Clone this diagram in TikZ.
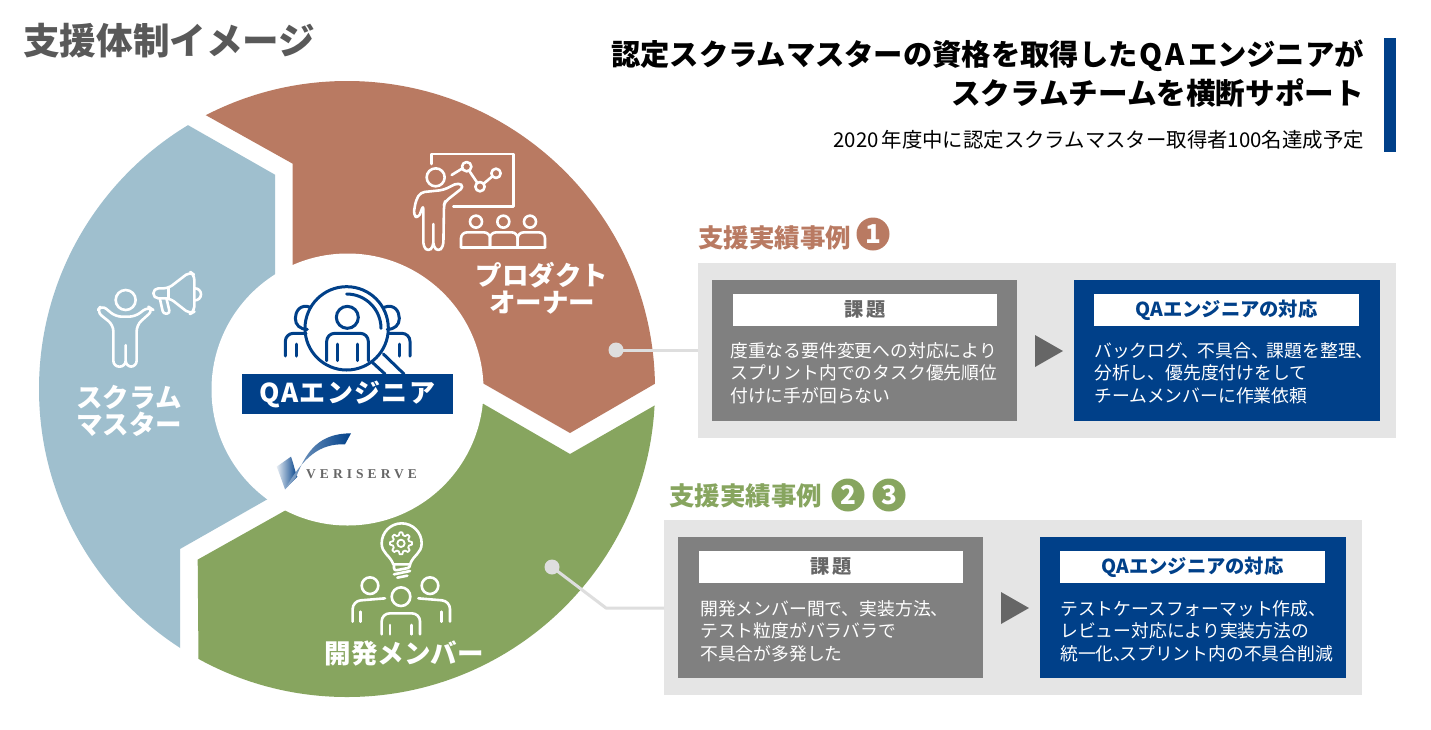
\documentclass[tikz,border=0pt]{standalone}
\usepackage{fontspec}
\setmainfont{Noto Sans CJK JP}
\newfontfamily\logofont[LetterSpace=30]{Liberation Serif}
\definecolor{segblue}{HTML}{9FBFCE}
\definecolor{segbrown}{HTML}{B97A62}
\definecolor{seggreen}{HTML}{87A55F}
\definecolor{navy}{HTML}{004089}
\definecolor{boxgray}{HTML}{808080}
\definecolor{panelgray}{HTML}{E5E5E5}
\definecolor{titlegray}{HTML}{595959}
\definecolor{arrowgray}{HTML}{666666}
\definecolor{dotgray}{HTML}{DEDEDE}
\newcommand{\fs}[2]{\fontsize{#1}{#2}\selectfont}
\tikzset{
 x=1pt,y=-1pt,
 icon/.style={draw=white,line width=2.6pt,line cap=round,line join=round,rounded corners=2.5pt,fill=none},
 qaicon/.style={draw=navy,line width=3pt,line cap=round,line join=round,rounded corners=3pt,fill=none},
 zoomed/.style={x=0.33333pt,y=-0.33333pt},
 panel/.style={fill=panelgray,draw=none,inner sep=0pt,anchor=north west},
 graybox/.style={fill=boxgray,draw=none,inner sep=0pt,anchor=north west,minimum width=305pt,minimum height=141pt},
 bluebox/.style={fill=navy,draw=none,inner sep=0pt,anchor=north west,minimum width=306pt,minimum height=141pt},
 headbox/.style={fill=white,draw=none,inner sep=0pt,anchor=center,minimum height=32pt,font=\bfseries\fs{19.3}{21}},
 bodytext/.style={text=white,align=left,anchor=west,inner sep=0pt,font=\fs{17.8}{22.6}},
 seglabel/.style={text=white,align=center,inner sep=0pt,font=\bfseries\fs{26.5}{27}},
 casehead/.style={anchor=west,inner sep=0pt,font=\bfseries\fs{25.5}{27}},
 numdot/.style={circle,inner sep=0pt,minimum size=33pt,text=white,font=\bfseries\fs{26}{28}},
 tri/.style={fill=arrowgray,draw=none},
 conn/.style={draw=dotgray,line width=3pt,line join=round},
 dot/.style={circle,fill=dotgray,inner sep=0pt,minimum size=15pt},
}
\begin{document}
\begin{tikzpicture}
\useasboundingbox[fill=white] (0,0) rectangle (1431,729);
% ring
\begin{scope}
\clip (347,389) circle (308pt);
\fill[segblue] (100,75) -- (275,174.7) -- (275,320) -- (300,480.7) -- (180,549) -- (180,720) -- (-50,720) -- (-50,75) -- cycle;
\fill[segbrown] (150,84) -- (292.7,163.7) -- (292.7,320) -- (430,353) -- (570,433) -- (720,346) -- (720,0) -- (150,0) -- cycle;
\fill[seggreen] (570,454) -- (430,373) -- (320,491) -- (197.7,559.6) -- (199,729) -- (720,729) -- (720,368) -- cycle;
\end{scope}
\node[circle,fill=white,minimum size=272pt,inner sep=0pt] (hub) at (347.5,389.5) {};
% title
\node[anchor=west,inner sep=0pt,text=titlegray,font=\bfseries\fs{36.6}{38}] (title) at (23,41) {支援体制イメージ};
\node[anchor=east,inner sep=0pt,font=\bfseries\fs{29.3}{32}] (h1) at (1364,56) {認定スクラムマスターの資格を取得した\kern2pt Q\kern3pt A\kern3pt エンジニアが};
\node[anchor=east,inner sep=0pt,font=\bfseries\fs{29.6}{32}] (h2) at (1364,93) {スクラムチームを横断サポート};
\node[anchor=east,inner sep=0pt,font=\fs{20.4}{22}] (h3) at (1364,140) {2020\kern3pt 年度中に認定スクラムマスター取得者100名達成予定};
\node[fill=navy,inner sep=0pt,minimum width=12pt,minimum height=114pt,anchor=north west] (bar) at (1384,38) {};
% panels
\node[panel,minimum width=698pt,minimum height=175pt] (p1) at (698,263) {};
\node[graybox] (g1) at (712,280) {};
\node[bluebox] (b1) at (1074,280) {};
\node[headbox,minimum width=264pt,text=arrowgray] (g1h) at (865,310) {課\,題};
\node[headbox,minimum width=265pt,text=navy] (b1h) at (1226.5,310) {QAエンジニアの対応};
\node[bodytext] (g1t) at (730,373) {度重なる要件変更への対応により\\スプリント内でのタスク優先順位\\付けに手が回らない};
\node[bodytext] (b1t) at (1094,373) {バックログ、\kern-2pt 不具合、\kern-2pt 課題を整理、\\分析し、優先度付けをして\\チームメンバーに作業依頼};
\fill[tri] (1035,335) -- (1063,351) -- (1035,367) -- cycle;
\node[casehead,text=segbrown] (c1) at (698,238) {支援実績事例};
\node[numdot,fill=segbrown] (n1) at (873,234) {1};
%
\node[panel,minimum width=698pt,minimum height=175pt] (p2) at (664,520) {};
\node[graybox] (g2) at (678,537) {};
\node[bluebox] (b2) at (1040,537) {};
\node[headbox,minimum width=264pt,text=arrowgray] (g2h) at (831,567) {課\,題};
\node[headbox,minimum width=265pt,text=navy] (b2h) at (1192.5,567) {QAエンジニアの対応};
\node[bodytext] (g2t) at (700,631) {開発メンバー間で、実装方法、\\テスト粒度がバラバラで\\不具合が多発した};
\node[bodytext] (b2t) at (1060,631) {テストケースフォーマット作成、\\レビュー対応により実装方法の\\統一化、\kern-12pt スプリント内の不具合削減};
\fill[tri] (1001,592) -- (1029,608) -- (1001,624) -- cycle;
\node[casehead,text=seggreen] (c2) at (669,496) {支援実績事例};
\node[numdot,fill=seggreen] (n2) at (848,495) {2};
\node[numdot,fill=seggreen] (n3) at (889,495) {3};
% connectors
\node[dot] (d1) at (616,350) {};
\node[dot] (d2) at (552,567) {};
\coordinate (bend2) at (606,608);
\draw[conn] (d1.center) -- (d1.center -| p1.west);
\draw[conn] (d2.center) -- (bend2) -- (bend2 -| p2.west);
% labels
\node[seglabel] (po) at (542,288) {プロダクト\\オーナー};
\node[seglabel] (sm) at (129,411) {スクラム\\マスター};
\node[seglabel] (dev) at (404,653) {開発メンバー};
% QA icon
\begin{scope}[shift={(220,270)},zoomed]
\draw[qaicon,rounded corners=0pt] (380,175) circle (125);
\draw[qaicon,rounded corners=0pt] (380,72) arc[start angle=-90,end angle=0,radius=103];
\draw[qaicon,rounded corners=0pt] (382,142) circle (33);
\draw[qaicon,rounded corners=8pt] (320,272) -- (320,190) -- (445,190) -- (445,272);
\draw[qaicon] (352,222) -- (352,272) (412,222) -- (412,272);
\draw[qaicon,rounded corners=0pt] (272,112) .. controls (240,100) and (226,125) .. (226,145) .. controls (226,165) and (240,178) .. (262,178);
\draw[qaicon,rounded corners=0pt] (492,112) .. controls (524,100) and (538,125) .. (538,145) .. controls (538,165) and (524,178) .. (502,178);
\draw[qaicon,rounded corners=8pt] (196,258) -- (196,190) -- (258,190);
\draw[qaicon] (228,222) -- (228,258);
\draw[qaicon,rounded corners=8pt] (570,258) -- (570,190) -- (505,190);
\draw[qaicon] (537,222) -- (537,258);
\draw[qaicon] (458,278) -- (495,312) (490,252) -- (552,312);
\end{scope}
\node[fill=navy,inner sep=0pt,minimum width=211pt,minimum height=40pt] (qa) at (347.5,394) {};
\node[text=white,inner sep=0pt,font=\bfseries\addfontfeature{LetterSpace=5}\fs{26}{28}] (qat) at (qa.center) {QAエンジニア};
% logo
\begin{scope}[shift={(220,270)},zoomed]
\shade[left color=navy!10!white,right color=navy] (170,590) -- (213,560) .. controls (222,585) and (225,605) .. (232,620) -- (195,658) .. controls (185,630) and (178,610) .. (170,590) -- cycle;
\shade[left color=navy!45!white,right color=navy] (228,622) .. controls (260,540) and (300,490) .. (393,490) -- (375,523) .. controls (300,520) and (250,560) .. (195,658) -- cycle;
\end{scope}
\node[anchor=west,inner sep=0pt,text=arrowgray,font=\logofont\bfseries\fs{13.5}{15}] (vs) at (306,474) {VERISERVE};
% presentation icon
\begin{scope}[shift={(400,140)},zoomed]
\draw[icon,rounded corners=0pt] (95,72) -- (95,42) -- (340,42) -- (340,200) -- (160,200);
\draw[icon,rounded corners=0pt] (107,112) circle (27);
\draw[icon,rounded corners=4pt] (62,157) -- (130,150) -- (175,128) -- (192,140) -- (135,185) -- (132,195) -- (130,320) -- (115,335) -- (100,320) -- (100,245) -- (100,320) -- (85,335) -- (70,320) -- (70,195) -- (55,235) -- (40,225) -- (48,180) -- cycle;
\foreach \p in {(200,80),(240,140),(288,100)} \draw[icon,rounded corners=0pt] \p circle (14);
\draw[icon] (155,105) -- (186,86) (208,93) -- (231,127) (251,131) -- (277,109);
\foreach \q in {228,310,390} \draw[icon,rounded corners=0pt] (\q,245) circle (18);
\draw[icon,rounded corners=6pt] (183,322) -- (183,277) -- (270,277) -- (270,322);
\draw[icon,rounded corners=6pt] (270,322) -- (270,277) -- (353,277) -- (353,322);
\draw[icon,rounded corners=6pt] (353,322) -- (353,277) -- (435,277) -- (435,322);
\draw[icon] (183,322) -- (435,322);
\end{scope}
% megaphone icon
\begin{scope}[shift={(85,260)},zoomed]
\draw[icon,rounded corners=0pt] (122,120) circle (30);
\draw[icon,rounded corners=6pt] (50,135) -- (92,170) -- (150,170) -- (190,140) -- (205,150) -- (155,195) -- (155,320) -- (122,320) -- (122,245) -- (122,320) -- (85,320) -- (85,195) -- (35,155) -- cycle;
\draw[icon,rounded corners=5pt] (250,85) -- (315,35) -- (328,45) -- (328,155) -- (315,162) -- (255,115) -- (205,115) -- (205,85) -- cycle;
\draw[icon,rounded corners=3pt] (250,85) -- (250,115);
\draw[icon,rounded corners=3pt] (225,118) -- (235,162) -- (255,160) -- (245,118);
\draw[icon,rounded corners=0pt] (330,85) arc[start angle=-90,end angle=90,radius=18];
\end{scope}
% developer icon
\begin{scope}[shift={(330,515)},zoomed]
\draw[icon,rounded corners=0pt] (190,148) .. controls (180,120) and (155,115) .. (155,85) arc[start angle=180,end angle=360,radius=60] .. controls (275,115) and (250,120) .. (240,148) -- cycle;
\draw[icon] (192,148) -- (192,167) -- (240,158) -- (240,148) (192,178) -- (240,168) (202,188) -- (232,182);
\begin{scope}[shift={(213,85)}]
\draw[draw=white,line width=1.8pt,line join=round] (33,0)
  \foreach \a in {0,45,...,315}{ -- (\a+7:33) -- (\a+15:25) -- (\a+30:25) -- (\a+38:33) -- (\a+45:33)} -- cycle;
\draw[draw=white,line width=1.8pt] (0,0) circle (11);
\end{scope}
\foreach \hx/\hy/\hr in {120/212/25,300/212/25,213/245/28} \draw[icon,rounded corners=0pt] (\hx,\hy) circle (\hr);
\draw[icon,rounded corners=8pt] (68,320) -- (68,258) -- (165,250);
\draw[icon,rounded corners=8pt] (360,320) -- (360,258) -- (265,250);
\draw[icon] (92,290) -- (92,320) (335,290) -- (335,320);
\draw[icon,rounded corners=8pt] (155,358) -- (155,295) -- (270,295) -- (270,358);
\draw[icon] (180,330) -- (180,358) (245,330) -- (245,358);
\end{scope}
\end{tikzpicture}
\end{document}
